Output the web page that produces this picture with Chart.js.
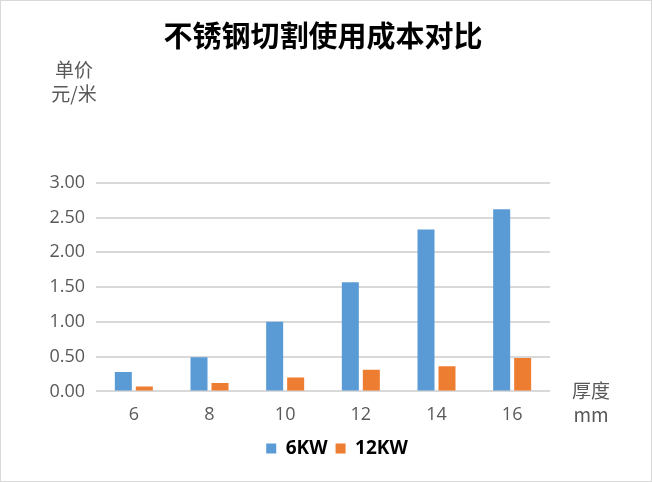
<!DOCTYPE html>
<html><head><meta charset="utf-8">
<script src="https://cdn.jsdelivr.net/npm/chart.js@4.4.0/dist/chart.umd.min.js"></script>
<style>
html,body{margin:0;padding:0;background:#fff;}
#wrap{width:652px;height:482px;box-sizing:border-box;border:1px solid #d9d9d9;background:#fff;}
canvas{display:block;}
</style></head>
<body>
<div id="wrap"><canvas id="c" width="650" height="480"></canvas></div>
<script>
const categories = ['6','8','10','12','14','16'];
const series6KW = [0.28, 0.49, 1.00, 1.57, 2.33, 2.62];
const series12KW = [0.07, 0.12, 0.20, 0.31, 0.36, 0.48];
const seriesNames = ['6KW','12KW'];
const chartTitle = '不锈钢切割使用成本对比';
const yTitle = ['单价','元/米'];
const xTitle = ['厚度','mm'];

const CJK = "'Noto Sans CJK SC','Open Sans',sans-serif";
const NUM = "'Open Sans','Noto Sans CJK SC',sans-serif";

const axisTitles = {
  id:'axisTitles',
  afterDraw(chart){
    const ctx = chart.ctx, a = chart.chartArea;
    ctx.save();
    ctx.fillStyle = '#595959';
    ctx.font = "19px " + CJK;
    ctx.textAlign = 'center';
    ctx.textBaseline = 'middle';
    ctx.fillText(yTitle[0], a.left - 22, a.top - 113);
    ctx.fillText(yTitle[1], a.left - 22, a.top - 89);
    ctx.fillText(xTitle[0], a.right + 41, a.bottom - 1);
    ctx.fillText(xTitle[1], a.right + 41, a.bottom + 23);
    ctx.restore();
  }
};

new Chart(document.getElementById('c'), {
  type:'bar',
  data:{
    labels: categories,
    datasets:[
      {label: seriesNames[0], data: series6KW, backgroundColor:'#5b9bd5'},
      {label: seriesNames[1], data: series12KW, backgroundColor:'#ed7d31'}
    ]
  },
  options:{
    responsive:false,
    animation:false,
    devicePixelRatio:1,
    layout:{padding:{left:22,right:0,top:0,bottom:13}},
    datasets:{bar:{categoryPercentage:0.555, barPercentage:0.81}},
    plugins:{
      title:{display:true,fullSize:false,text:chartTitle,color:'#000',
        font:{family:CJK,size:29,weight:'bold'},padding:{top:18,bottom:129}},
      legend:{position:'bottom',
        labels:{boxWidth:10,boxHeight:10,color:'#000',padding:8,
          font:{family:NUM,size:19,weight:'bold'}}},
      tooltip:{enabled:false}
    },
    scales:{
      x:{
        grid:{display:false},
        border:{display:false},
        ticks:{color:'#595959',font:{family:NUM,size:18},padding:5}
      },
      y:{
        min:0,max:3,
        afterFit(s){ s.width = 73; },
        grid:{color:'#d9d9d9',lineWidth:2,drawTicks:false},
        border:{display:false},
        ticks:{stepSize:0.5,color:'#595959',font:{family:NUM,size:18},padding:11,
          callback:v=>v.toFixed(2)}
      },
      yR:{
        position:'right',
        display:true,
        afterFit(s){ s.width = 101; },
        grid:{display:false,drawTicks:false},
        border:{display:false},
        ticks:{display:false}
      }
    }
  },
  plugins:[axisTitles]
});
</script>
</body></html>
